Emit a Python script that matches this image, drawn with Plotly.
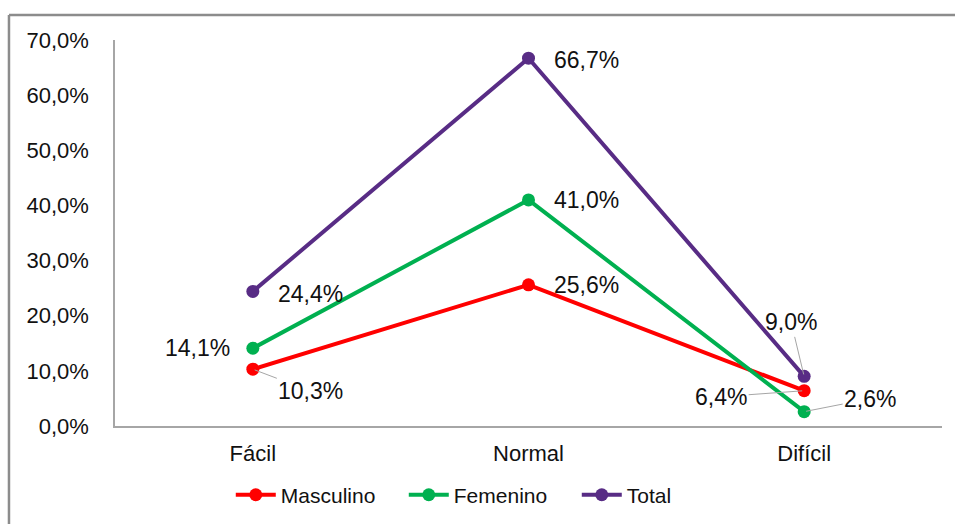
import plotly.graph_objects as go

# Data
categories = ["Fácil", "Normal", "Difícil"]
masculino = [0.103, 0.256, 0.064]
femenino = [0.141, 0.410, 0.026]
total = [0.244, 0.667, 0.090]

series_names = ["Masculino", "Femenino", "Total"]
series_values = [masculino, femenino, total]
series_colors = ["#FF0000", "#00B050", "#582C85"]

# Label placement per series/category: (dx, dy, leader_line)
label_offsets = [
    [(58, 22, True), (58, 0, False), (-83, 6, True)],     # Masculino
    [(-55, 0, False), (58, 0, False), (66, -13, True)],   # Femenino
    [(58, 3, False), (58, 2, False), (-13, -54, True)],   # Total
]

FONT = "Liberation Sans, Arial, sans-serif"
TXT = "#111111"

fig = go.Figure()
for name, vals, color in zip(series_names, series_values, series_colors):
    fig.add_trace(go.Scatter(
        x=categories, y=vals, name=name, mode="lines+markers",
        line=dict(color=color, width=4),
        marker=dict(color=color, size=13),
    ))

annotations = []
for vals, offs in zip(series_values, label_offsets):
    for cat, v, (dx, dy, leader) in zip(categories, vals, offs):
        text = f"{v*100:.1f}%".replace(".", ",")
        if leader:
            annotations.append(dict(
                x=cat, y=v, text=text, showarrow=True, arrowhead=0,
                arrowwidth=1, arrowcolor="#A6A6A6", ax=dx, ay=dy,
                standoff=2, font=dict(family=FONT, size=23, color=TXT),
            ))
        else:
            annotations.append(dict(
                x=cat, y=v, text=text, showarrow=False,
                xshift=dx, yshift=-dy,
                font=dict(family=FONT, size=23, color=TXT),
            ))

fig.update_layout(
    width=955, height=524,
    margin=dict(l=115, r=13, t=40, b=98, autoexpand=False),
    paper_bgcolor="white", plot_bgcolor="white",
    separators=",.",
    font=dict(family=FONT, size=22, color=TXT),
    annotations=annotations,
    showlegend=True,
    legend=dict(
        orientation="h", x=0.14, xanchor="left", y=-0.179, yanchor="middle",
        font=dict(family=FONT, size=21, color=TXT),
        itemwidth=40, entrywidth=118, entrywidthmode="pixels",
        tracegroupgap=0,
    ),
    xaxis=dict(
        type="category", range=[-0.5, 2.5], showgrid=False,
        showline=True, linecolor="#A6A6A6", linewidth=1.5,
        ticks="", ticklabelstandoff=7, zeroline=False,
    ),
    yaxis=dict(
        range=[0, 0.7], dtick=0.1, tickformat=".1%", showgrid=False,
        showline=True, linecolor="#A6A6A6", linewidth=1.5,
        ticks="", ticklabelstandoff=20, zeroline=False,
    ),
    shapes=[
        dict(type="line", xref="paper", yref="paper",
             x0=-0.1282, x1=1.02, y0=1.0648, y1=1.0648,
             line=dict(color="#8C8C8C", width=2.5)),
        dict(type="line", xref="paper", yref="paper",
             x0=-0.1282, x1=-0.1282, y0=1.0648, y1=-0.26,
             line=dict(color="#8C8C8C", width=2.5)),
    ],
)

fig.write_html("out.html")
